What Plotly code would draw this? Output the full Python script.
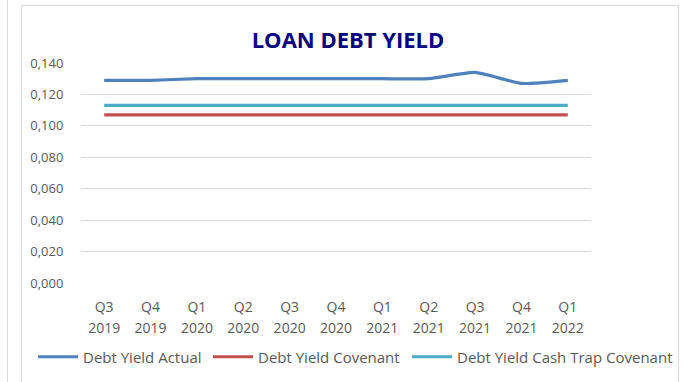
import plotly.graph_objects as go

quarters = ["Q3", "Q4", "Q1", "Q2", "Q3", "Q4", "Q1", "Q2", "Q3", "Q4", "Q1"]
years = ["2019", "2019", "2020", "2020", "2020", "2020", "2021", "2021", "2021", "2021", "2022"]
actual = [0.129, 0.129, 0.130, 0.130, 0.130, 0.130, 0.130, 0.130, 0.134, 0.127, 0.129]
covenant = [0.107] * 11
cash_trap = [0.113] * 11
y_ticks = [0.0, 0.02, 0.04, 0.06, 0.08, 0.10, 0.12, 0.14]

FONT = "Open Sans"
GRAY = "#595959"
idx = list(range(len(quarters)))

fig = go.Figure()
fig.add_trace(go.Scatter(x=idx, y=actual, name="Debt Yield Actual", mode="lines", legend="legend",
                         line=dict(color="#4F81BD", width=3.2, shape="spline", smoothing=0.5)))
fig.add_trace(go.Scatter(x=idx, y=covenant, name="Debt Yield Covenant", mode="lines", legend="legend2",
                         line=dict(color="#C0504D", width=3.2)))
fig.add_trace(go.Scatter(x=idx, y=cash_trap, name="Debt Yield Cash Trap Covenant", mode="lines",
                         legend="legend3", line=dict(color="#4BACC6", width=3.2)))
# invisible trace to activate the year axis
fig.add_trace(go.Scatter(x=idx, y=cash_trap, xaxis="x2", mode="lines", showlegend=False,
                         hoverinfo="skip", line=dict(color="rgba(0,0,0,0)", width=0)))

L, R, T, B = 81, 591, 63, 283
W, H = R - L, B - T
def px(x):
    return (x - L) / W
def py(y):
    return (B - y) / H

shapes = [
    dict(type="rect", xref="paper", yref="paper", x0=px(21.5), x1=px(678.5), y0=py(420), y1=py(5.5),
         line=dict(color="#d9d9d9", width=1), fillcolor="rgba(0,0,0,0)", layer="below"),
    dict(type="line", xref="paper", yref="paper", x0=px(7.5), x1=px(7.5), y0=py(0), y1=py(382),
         line=dict(color="#d9d9d9", width=1)),
]

xcommon = dict(showgrid=False, showline=False, zeroline=False, ticks="outside",
               tickcolor="rgba(0,0,0,0)", tickangle=0, range=[-0.5, 10.5],
               tickmode="array", tickvals=idx, automargin=False)

def leg(xpix):
    return dict(orientation="h", xref="container", yref="container", x=xpix / 694, xanchor="left",
                y=1 - 357 / 382, yanchor="middle", font=dict(size=15, color=GRAY),
                bgcolor="rgba(0,0,0,0)", itemwidth=40, borderwidth=0)

fig.update_layout(
    width=694, height=382,
    margin=dict(l=L, r=694 - R, t=T, b=382 - B, autoexpand=False),
    paper_bgcolor="white", plot_bgcolor="white",
    separators=",.",
    font=dict(family=FONT, size=13, color=GRAY),
    title=dict(text="<b>LOAN DEBT YIELD</b>", xref="container", x=348 / 694, xanchor="center",
               yref="container", y=1 - 40 / 382, yanchor="middle",
               font=dict(family=FONT, size=22, color="#000080")),
    xaxis=dict(**xcommon, ticktext=quarters, ticklen=11, tickfont=dict(size=14, color=GRAY)),
    xaxis2=dict(**xcommon, ticktext=years, ticklen=32, overlaying="x", side="bottom", anchor="y",
                tickfont=dict(size=14, color=GRAY)),
    yaxis=dict(range=[0, 0.14], tickvals=y_ticks, tickformat=".3f", showgrid=True, gridcolor="#d9d9d9",
               gridwidth=1, zeroline=False, showline=False, ticks="outside", ticklen=14,
               tickcolor="rgba(0,0,0,0)", tickfont=dict(size=13, color=GRAY), automargin=False),
    legend=leg(33),
    legend2=leg(208),
    legend3=leg(407),
    showlegend=True,
    shapes=shapes,
)

fig.write_html("out.html")
